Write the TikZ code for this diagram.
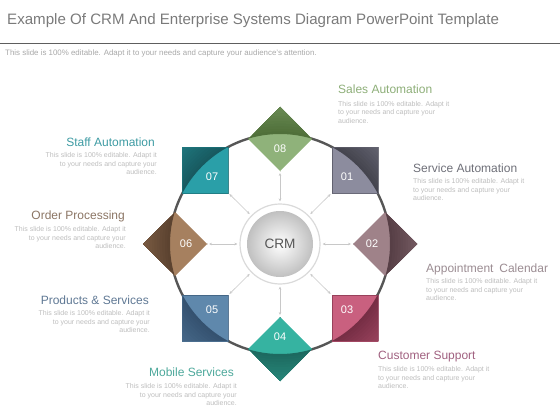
\documentclass[tikz,border=0pt]{standalone}
\usepackage{fontspec}
\setmainfont{Liberation Sans}
\usetikzlibrary{shapes.geometric,arrows.meta}
\definecolor{titlegray}{HTML}{7A7A7A}
\definecolor{subgray}{HTML}{A8A8A8}
\definecolor{rulegray}{HTML}{5E5E5E}
\definecolor{bodygray}{HTML}{BDBDBD}
\definecolor{arrgray}{HTML}{C8C8C8}
\definecolor{ringgray}{HTML}{565656}
\definecolor{crmtext}{HTML}{555555}
\definecolor{crmborder}{HTML}{DADADA}
\definecolor{lA}{HTML}{8C8C9E}\definecolor{dA}{HTML}{45454F}
\definecolor{lB}{HTML}{9F8289}\definecolor{dB}{HTML}{573F46}
\definecolor{lC}{HTML}{C9607F}\definecolor{dC}{HTML}{772E45}
\definecolor{lD}{HTML}{36B3A1}\definecolor{dD}{HTML}{1D6A60}
\definecolor{lE}{HTML}{5F88AC}\definecolor{dE}{HTML}{355270}
\definecolor{lF}{HTML}{A6805F}\definecolor{dF}{HTML}{5C4330}
\definecolor{lG}{HTML}{2A9FA8}\definecolor{dG}{HTML}{185A60}
\definecolor{lH}{HTML}{8FB27A}\definecolor{dH}{HTML}{50703A}
\definecolor{hA}{HTML}{6E6F78}
\definecolor{hB}{HTML}{9B8C92}
\definecolor{hC}{HTML}{A0607F}
\definecolor{hD}{HTML}{4DA89B}
\definecolor{hE}{HTML}{5F7894}
\definecolor{hF}{HTML}{8B7564}
\definecolor{hG}{HTML}{3E9BA3}
\definecolor{hH}{HTML}{8DAE78}
\begin{document}
\begin{tikzpicture}[x=1pt,y=-1pt,
  sqbox/.style={rectangle, minimum size=46pt, inner sep=0pt, outer sep=0pt},
  diabox/.style={diamond, aspect=1, minimum width=64pt, minimum height=64pt, inner sep=0pt, outer sep=0pt},
  tone/.style 2 args={fill=#1, path picture={%
    \foreach \k in {0,...,13}{%
      \pgfmathtruncatemacro\pp{100-\k*4}%
      \fill[#2!\pp!#1, even odd rule] (crm.center) circle[radius=110pt+\k*2.6pt] (path picture bounding box.south west) rectangle (path picture bounding box.north east);
    }}},
  num/.style={text=white, font=\fontsize{11}{11}\selectfont, inner sep=0pt},
  head/.style={font=\fontsize{12}{12}\selectfont, inner sep=0pt},
  body/.style={font=\fontsize{7}{8.4}\selectfont, text=bodygray, inner sep=0pt},
  arr/.style={draw=arrgray, line width=0.6pt, {Stealth[length=3pt,width=2.6pt]}-{Stealth[length=3pt,width=2.6pt]}, shorten <=2pt, shorten >=2pt},
  crmnode/.style={circle, minimum size=80pt, inner sep=0pt, fill=white, draw=crmborder, line width=1.2pt, text=crmtext, font=\fontsize{13.6}{14}\selectfont,
    path picture={\shade[inner color=white, outer color=black!30] (path picture bounding box.center) circle[radius=33pt];}},
  ring/.style={draw=ringgray, line width=2.4pt}
]
\useasboundingbox (0,0) rectangle (560,420);
% header
\node[anchor=base west, inner sep=0pt, text=titlegray, font=\fontsize{15.1}{15}\selectfont] (title) at (7,25) {Example Of CRM And Enterprise Systems Diagram PowerPoint Template};
\coordinate (rl) at (0,43.5);
\coordinate (rr) at (560,43.5);
\draw[rulegray, line width=1.8pt] (rl) -- (rr);
\node[anchor=base west, inner sep=0pt, text=subgray, font=\fontsize{7.9}{8}\selectfont] (sub) at (5,56) {This slide is 100\% editable. Adapt it to your needs and capture your audience's attention.};
% hub
\node[crmnode] (crm) at (280,244) {CRM};
\draw[ring] (crm.center) circle[radius=110pt];
% shapes
\node[diabox, tone={lH}{dH}] (s8) at (280,139) {};
\node[sqbox,  tone={lA}{dA}] (s1) at (355,170) {};
\node[diabox, tone={lB}{dB}] (s2) at (385,244) {};
\node[sqbox,  tone={lC}{dC}] (s3) at (355,318) {};
\node[diabox, tone={lD}{dD}] (s4) at (280,349) {};
\node[sqbox,  tone={lE}{dE}] (s5) at (205,318) {};
\node[diabox, tone={lF}{dF}] (s6) at (175,244) {};
\node[sqbox,  tone={lG}{dG}] (s7) at (205,170) {};
% numbers
\node[num] (n8) at (280,149) {08};
\node[num] (n1) at (347,177) {01};
\node[num] (n2) at (372,244) {02};
\node[num] (n3) at (347,310) {03};
\node[num] (n4) at (280,337) {04};
\node[num] (n5) at (212,310) {05};
\node[num] (n6) at (186,244) {06};
\node[num] (n7) at (212,177) {07};
% arrows
\foreach \s in {s1,s2,s3,s4,s5,s6,s7,s8} \draw[arr] (crm) -- (\s);
% texts
\node[head, anchor=base west, text=hH] (t8) at (338,93.3) {Sales Automation};
\node[body, anchor=north west, align=left] (b8) at (338,101.2) {This slide is 100\% editable. Adapt it\\to your needs and capture your\\audience.};
\node[head, anchor=base east, text=hG] (t7) at (155,146.3) {Staff Automation};
\node[body, anchor=north east, align=right] (b7) at (157,152.4) {This slide is 100\% editable. Adapt it\\to your needs and capture your\\audience.};
\node[head, anchor=base west, text=hA] (t1) at (413,172.3) {Service Automation};
\node[body, anchor=north west, align=left] (b1) at (413,178.6) {This slide is 100\% editable. Adapt it\\to your needs and capture your\\audience.};
\node[head, anchor=base east, text=hF] (t6) at (125,219.3) {Order Processing};
\node[body, anchor=north east, align=right] (b6) at (126,226.4) {This slide is 100\% editable. Adapt it\\to your needs and capture your\\audience.};
\node[head, anchor=base west, text=hB] (t2) at (426,272.3) {Appointment\hspace{2.5pt} Calendar};
\node[body, anchor=north west, align=left] (b2) at (426,278.4) {This slide is 100\% editable. Adapt it\\to your needs and capture your\\audience.};
\node[head, anchor=base east, text=hE] (t5) at (149,304.3) {Products \& Services};
\node[body, anchor=north east, align=right] (b5) at (150,310.4) {This slide is 100\% editable. Adapt it\\to your needs and capture your\\audience.};
\node[head, anchor=base east, text=hD] (t4) at (234,376.3) {Mobile Services};
\node[body, anchor=north east, align=right] (b4) at (237,383.4) {This slide is 100\% editable. Adapt it\\to your needs and capture your\\audience.};
\node[head, anchor=base west, text=hC] (t3) at (378,359.3) {Customer Support};
\node[body, anchor=north west, align=left] (b3) at (378,366.4) {This slide is 100\% editable. Adapt it\\to your needs and capture your\\audience.};
\end{tikzpicture}
\end{document}
